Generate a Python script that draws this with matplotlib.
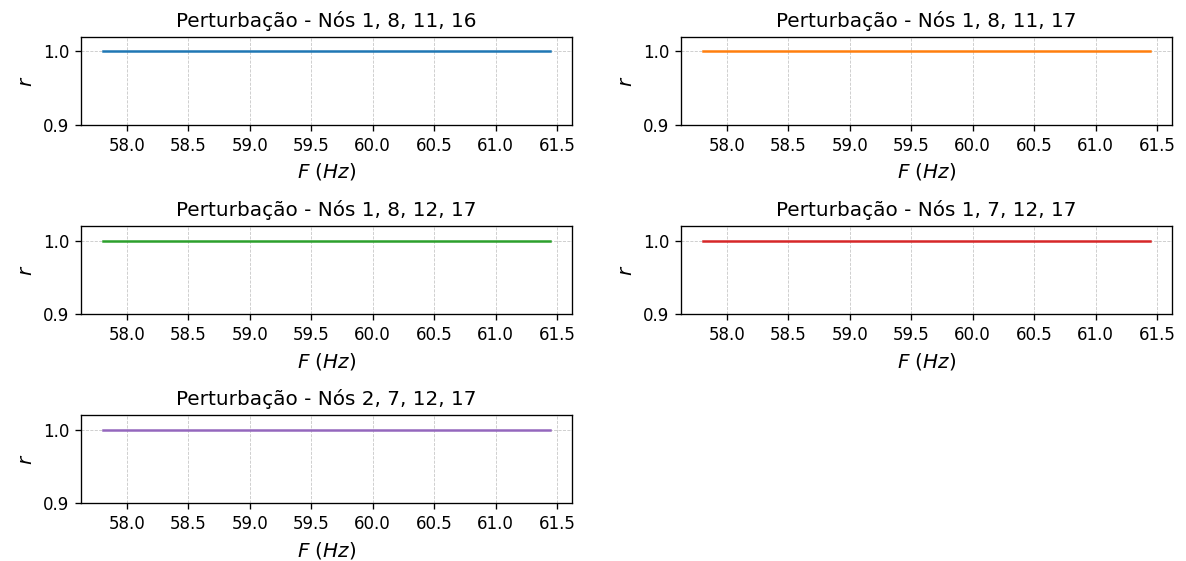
import numpy as np
import matplotlib
matplotlib.use("Agg")
import matplotlib.pyplot as plt

# Data: frequency sweep and order parameter r (constant 1.0) for each perturbation
freq = [57.81, 58.0, 58.5, 59.0, 59.5, 60.0, 60.5, 61.0, 61.44]
r_1_8_11_16 = [1.0, 1.0, 1.0, 1.0, 1.0, 1.0, 1.0, 1.0, 1.0]
r_1_8_11_17 = [1.0, 1.0, 1.0, 1.0, 1.0, 1.0, 1.0, 1.0, 1.0]
r_1_8_12_17 = [1.0, 1.0, 1.0, 1.0, 1.0, 1.0, 1.0, 1.0, 1.0]
r_1_7_12_17 = [1.0, 1.0, 1.0, 1.0, 1.0, 1.0, 1.0, 1.0, 1.0]
r_2_7_12_17 = [1.0, 1.0, 1.0, 1.0, 1.0, 1.0, 1.0, 1.0, 1.0]

titles = [
    "Perturbação - Nós 1, 8, 11, 16",
    "Perturbação - Nós 1, 8, 11, 17",
    "Perturbação - Nós 1, 8, 12, 17",
    "Perturbação - Nós 1, 7, 12, 17",
    "Perturbação - Nós 2, 7, 12, 17",
]
series = [r_1_8_11_16, r_1_8_11_17, r_1_8_12_17, r_1_7_12_17, r_2_7_12_17]
colors = ["#1f77b4", "#ff7f0e", "#2ca02c", "#d62728", "#9467bd"]

fig, axes = plt.subplots(3, 2, figsize=(1186 / 120, 561 / 120), dpi=120)
fig.subplots_adjust(left=0.0683, right=0.9882, bottom=0.1028, top=0.9346,
                    hspace=1.139, wspace=0.222)
axs = axes.flatten()
for i, (ax, y, t, c) in enumerate(zip(axs, series, titles, colors)):
    ax.plot(freq, y, color=c, linewidth=1.5)
    ax.set_title(t, fontsize=12)
    ax.set_xlabel("$F\\ (Hz)$", fontsize=12)
    ax.set_ylabel("$r$", fontsize=12)
    ax.set_ylim(0.9, 1.02)
    ax.set_yticks([0.9, 1.0])
    ax.grid(True, linestyle="--", linewidth=0.5, alpha=0.7)
    ax.tick_params(labelsize=10)
axs[5].axis("off")

fig.savefig("out.png", dpi=120)
